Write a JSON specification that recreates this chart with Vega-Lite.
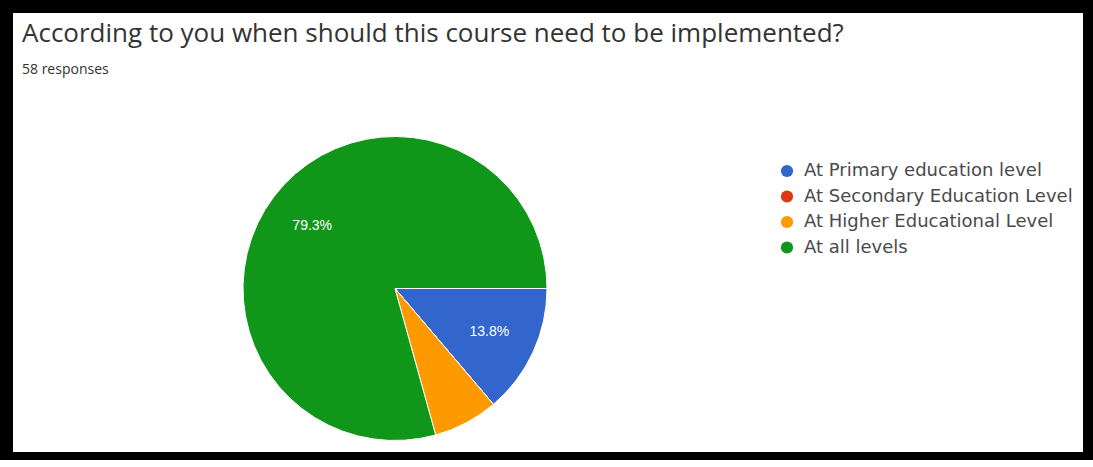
{
  "$schema": "https://vega.github.io/schema/vega-lite/v6.json",
  "background": "#000000",
  "padding": {"left": 13, "top": 13, "right": 10, "bottom": 8},
  "autosize": {"type": "pad"},
  "config": {
    "view": {"stroke": null, "fill": "#ffffff"},
    "concat": {"spacing": 0}
  },
  "title": {
    "text": "According to you when should this course need to be implemented?",
    "subtitle": "58 responses",
    "anchor": "start",
    "dx": 9,
    "offset": -64,
    "font": "Open Sans",
    "fontSize": 26,
    "fontWeight": "normal",
    "color": "#333333",
    "subtitleFont": "Open Sans",
    "subtitleFontSize": 14,
    "subtitleColor": "#333333",
    "subtitlePadding": 16
  },
  "datasets": {
    "responses": [
      {"level": "At Primary education level", "count": 8, "share": 0.138, "rank": 1},
      {"level": "At Secondary Education Level", "count": 0, "share": 0, "rank": 2},
      {"level": "At Higher Educational Level", "count": 4, "share": 0.069, "rank": 3},
      {"level": "At all levels", "count": 46, "share": 0.793, "rank": 4}
    ],
    "blank": []
  },
  "spacing": 0,
  "vconcat": [
    {"data": {"name": "blank"}, "mark": "point", "width": 1070, "height": 112, "view": {"fill": "#ffffff", "stroke": null}},
    {
      "spacing": 0,
      "hconcat": [
        {
          "data": {"name": "responses"},
          "width": 764,
          "height": 327,
          "view": {"fill": "#ffffff", "stroke": null},
          "layer": [
            {
              "mark": {"type": "arc", "outerRadius": 152, "stroke": "#ffffff", "strokeWidth": 1},
              "encoding": {
                "theta": {"field": "count", "type": "quantitative", "stack": true, "scale": {"range": [1.5708, 7.854]}},
                "order": {"field": "rank", "type": "quantitative"},
                "color": {
                  "field": "level",
                  "type": "nominal",
                  "scale": {
                    "domain": ["At Primary education level", "At Secondary Education Level", "At Higher Educational Level", "At all levels"],
                    "range": ["#3366cc", "#dc3912", "#ff9900", "#109618"]
                  },
                  "legend": {
                    "orient": "none",
                    "legendX": 765,
                    "legendY": 149,
                    "title": null,
                    "padding": 0,
                    "symbolType": "circle",
                    "symbolSize": 150,
                    "symbolStrokeWidth": 0,
                    "labelFont": "DejaVu Sans",
                    "labelFontSize": 18,
                    "labelColor": "#4a4a4a",
                    "labelOffset": 8,
                    "labelLimit": 400,
                    "rowPadding": 7.5
                  }
                }
              }
            },
            {
              "mark": {"type": "text", "radius": 104, "color": "#ffffff", "font": "Liberation Sans", "fontSize": 14},
              "encoding": {
                "theta": {"field": "count", "type": "quantitative", "stack": true, "scale": {"range": [1.5708, 7.854]}},
                "order": {"field": "rank", "type": "quantitative"},
                "text": {
                  "condition": {"test": "datum.share < 0.1", "value": ""},
                  "field": "share",
                  "type": "quantitative",
                  "format": ".1%"
                }
              }
            }
          ]
        },
        {"data": {"name": "blank"}, "mark": "point", "width": 306, "height": 327, "view": {"fill": "#ffffff", "stroke": null}}
      ]
    }
  ]
}
